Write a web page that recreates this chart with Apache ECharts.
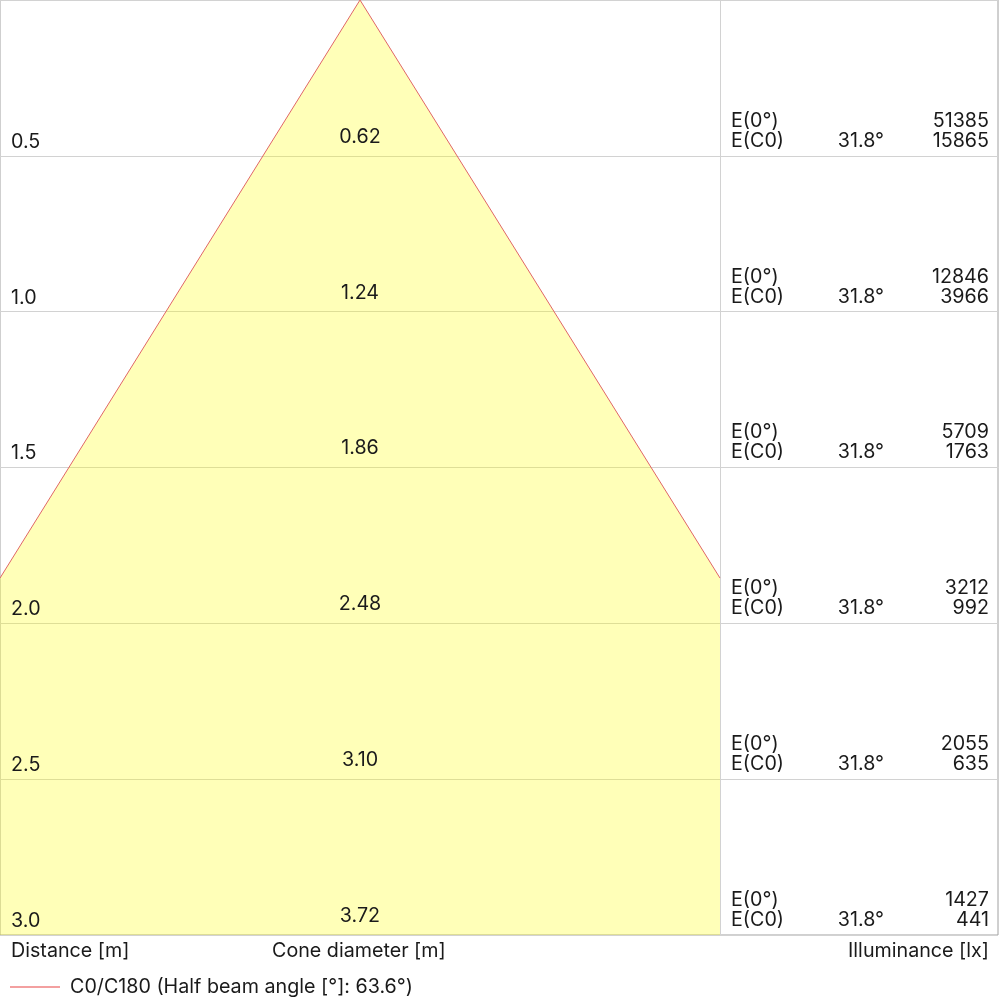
<!DOCTYPE html>
<html><head><meta charset="utf-8">
<script src="https://cdn.jsdelivr.net/npm/echarts@6/dist/echarts.min.js"></script>
<style>html,body{margin:0;padding:0;background:#fff}#c{width:1000px;height:1000px}</style>
</head><body><div id="c"></div><script>
// ---- data ----
const distances = [0.5, 1.0, 1.5, 2.0, 2.5, 3.0];
const distanceLabels = ['0.5', '1.0', '1.5', '2.0', '2.5', '3.0'];
const coneDiameters = ['0.62', '1.24', '1.86', '2.48', '3.10', '3.72'];
const eCenter = [51385, 12846, 5709, 3212, 2055, 1427];
const eC0 = [15865, 3966, 1763, 992, 635, 441];
const c0AngleLabels = ['31.8°', '31.8°', '31.8°', '31.8°', '31.8°', '31.8°'];
const halfAngleDeg = 31.8;
const beamAngleDeg = 63.6;
const xHalfRange = 1.15;   // half width of the cone panel, m
const maxDistance = 3.0;

// ---- derived cone geometry ----
const t = Math.tan(halfAngleDeg * Math.PI / 180);
const dEdge = xHalfRange / t;
const conePolygon = [[0, 0], [xHalfRange, dEdge], [xHalfRange, maxDistance], [-xHalfRange, maxDistance], [-xHalfRange, dEdge]];
const coneEdge = [[-xHalfRange, dEdge], [0, 0], [xHalfRange, dEdge]];

const FS = 19.7;
const FONT = FS + 'px Inter';
const TXT = '#1a1a1a';
const chart = echarts.init(document.getElementById('c'));
const yBase = { type: 'value', min: 0, max: maxDistance, interval: 0.5, inverse: true,
  axisLabel: { show: false }, axisTick: { show: false }, axisLine: { show: false } };
const legendName = 'C0/C180 (Half beam angle [°]: ' + beamAngleDeg.toFixed(1) + '°)';

chart.setOption({
  animation: false,
  grid: [
    { left: 0, top: 0, width: 720, height: 935 },
    { left: 0, top: 0, width: 998, height: 935, show: true, borderColor: '#a0a0a0', borderWidth: 1, backgroundColor: 'transparent' },
    { left: 720, top: 0, width: 278, height: 935 }
  ],
  xAxis: [
    { gridIndex: 0, type: 'value', min: -xHalfRange, max: xHalfRange, show: false },
    { gridIndex: 1, type: 'value', min: 0, max: 1, show: false },
    { gridIndex: 2, type: 'value', min: 0, max: 1, show: false }
  ],
  yAxis: [
    Object.assign({ gridIndex: 0, splitLine: { show: false } }, yBase),
    Object.assign({ gridIndex: 1, splitLine: { show: true, lineStyle: { color: '#d2d2d2', width: 1 } } }, yBase),
    Object.assign({}, yBase, { gridIndex: 2, splitLine: { show: false }, axisLine: { show: true, lineStyle: { color: '#d2d2d2', width: 1 } } })
  ],
  legend: {
    left: 10, top: 977, padding: 0, icon: 'rect', itemWidth: 50, itemHeight: 1.5,
    textStyle: { fontFamily: 'Inter', fontSize: FS, color: TXT, padding: [0, 0, 0, 5] },
    data: [legendName]
  },
  graphic: [
    { type: 'text', left: 11, top: 941, style: { text: 'Distance [m]', font: FONT, fill: TXT } },
    { type: 'text', left: 272, top: 941, style: { text: 'Cone diameter [m]', font: FONT, fill: TXT } },
    { type: 'text', right: 11, top: 941, style: { text: 'Illuminance [lx]', font: FONT, fill: TXT } }
  ],
  series: [
    {
      type: 'custom', xAxisIndex: 0, yAxisIndex: 0, z: 5, data: [0],
      renderItem: function (params, api) {
        return { type: 'polygon', shape: { points: conePolygon.map(p => api.coord(p)) },
          style: { fill: 'rgba(255,255,0,0.28)' } };
      }
    },
    {
      name: legendName,
      type: 'line', xAxisIndex: 0, yAxisIndex: 0, z: 6, data: coneEdge, showSymbol: false, symbol: 'none',
      lineStyle: { color: '#e06666', width: 1 }, itemStyle: { color: '#ef8080' }
    },
    {
      type: 'custom', xAxisIndex: 0, yAxisIndex: 0, z: 7,
      data: distances.map((d, i) => [d, i]),
      renderItem: function (params, api) {
        const d = api.value(0), i = api.value(1);
        const pl = api.coord([-xHalfRange, d]);
        const pc = api.coord([0, d]);
        return { type: 'group', children: [
          { type: 'text', style: { text: distanceLabels[i], x: pl[0] + 11, y: pl[1] - 14, font: FONT, fill: TXT, align: 'left', verticalAlign: 'middle' } },
          { type: 'text', style: { text: coneDiameters[i], x: pc[0], y: pc[1] - 19, font: FONT, fill: TXT, align: 'center', verticalAlign: 'middle' } }
        ] };
      }
    },
    {
      type: 'custom', xAxisIndex: 2, yAxisIndex: 2, z: 7,
      data: distances.map((d, i) => [d, i]),
      renderItem: function (params, api) {
        const d = api.value(0), i = api.value(1);
        const p = api.coord([0, d]);
        const y1 = p[1] - 35, y2 = p[1] - 15;
        const mk = (text, x, y, align) => ({ type: 'text', style: { text, x, y, font: FONT, fill: TXT, align, verticalAlign: 'middle' } });
        return { type: 'group', children: [
          mk('E(0°)', p[0] + 11, y1, 'left'),
          mk('E(C0)', p[0] + 11, y2, 'left'),
          mk(c0AngleLabels[i], p[0] + 164, y2, 'right'),
          mk(String(eCenter[i]), p[0] + 269, y1, 'right'),
          mk(String(eC0[i]), p[0] + 269, y2, 'right')
        ] };
      }
    }
  ]
});
</script></body></html>
